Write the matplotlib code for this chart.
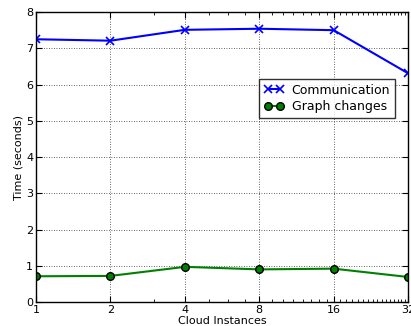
import numpy as np
import matplotlib.pyplot as plt
from matplotlib.ticker import FixedLocator, NullFormatter

instances = [1, 2, 4, 8, 16, 32]
tick_labels = ['1', '2', '4', '8', '16', '32']
communication = [7.25, 7.21, 7.51, 7.54, 7.50, 6.31]
graph_changes = [0.71, 0.72, 0.97, 0.90, 0.92, 0.69]

fig = plt.figure(figsize=(4.11, 3.26), dpi=100)
ax = fig.add_axes([0.0876, 0.0736, 0.9054, 0.8894])

ax.plot(instances, communication, color='blue', marker='x', markersize=6,
        markeredgewidth=1.2, linewidth=1.5, label='Communication')
ax.plot(instances, graph_changes, color='green', marker='o', markersize=5.5,
        markerfacecolor='green', markeredgecolor='black', linewidth=1.5,
        label='Graph changes')

ax.set_xscale('log', base=2)
ax.set_xlim(1, 32)
ax.set_ylim(0, 8)
ax.set_xticks(instances)
ax.set_xticklabels(tick_labels)
minors = [v for v in range(3, 32) if v not in instances]
ax.xaxis.set_minor_locator(FixedLocator(minors))
ax.xaxis.set_minor_formatter(NullFormatter())
ax.set_yticks(range(0, 9))

ax.tick_params(which='both', direction='in', top=True, right=True,
               labelsize=8, pad=2)
ax.tick_params(which='major', length=4)
ax.tick_params(which='minor', length=2)
ax.grid(True, which='major', color='#333333', linestyle=(0, (1, 2)),
        linewidth=0.6)

for s in ax.spines.values():
    s.set_linewidth(1.0)

ax.set_xlabel('Cloud Instances', fontsize=8, labelpad=1)
ax.set_ylabel('Time (seconds)', fontsize=8, labelpad=2)

leg = ax.legend(loc='upper right', bbox_to_anchor=(0.965, 0.77),
                borderaxespad=0, fontsize=9, fancybox=False,
                handlelength=1.6, handletextpad=0.6, borderpad=0.4,
                labelspacing=0.3, numpoints=2)
leg.get_frame().set_edgecolor('black')
leg.get_frame().set_linewidth(1.0)

fig.savefig('out.png', dpi=100)
